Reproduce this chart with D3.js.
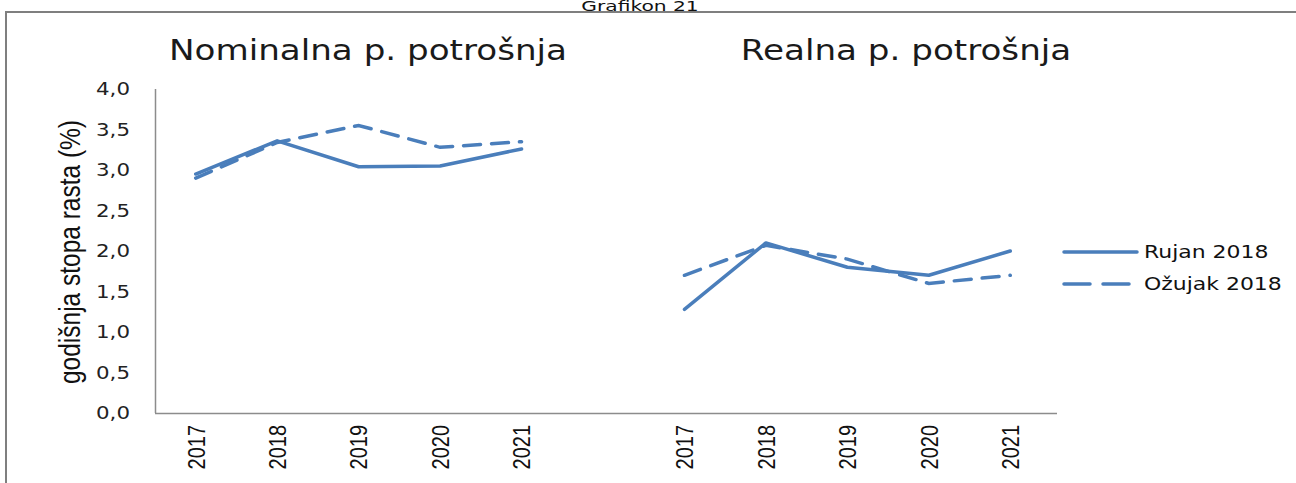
<!DOCTYPE html>
<html>
<head>
<meta charset="utf-8">
<script src="https://cdn.jsdelivr.net/npm/d3@7"></script>
<style>
  body { margin: 0; background: #fff; overflow: hidden; }
  svg { display: block; }
</style>
</head>
<body>
<div id="chart"></div>
<script>
const years = ["2017", "2018", "2019", "2020", "2021"];
const panels = ["Nominalna p. potrošnja", "Realna p. potrošnja"];
const seriesNames = ["Rujan 2018", "Ožujak 2018"];
const yTicks = [0, 0.5, 1, 1.5, 2, 2.5, 3, 3.5, 4];

// values per panel, per series
const nominalRujan  = [2.95, 3.36, 3.04, 3.05, 3.26];
const nominalOzujak = [2.90, 3.34, 3.55, 3.28, 3.35];
const realRujan     = [1.28, 2.10, 1.80, 1.70, 2.00];
const realOzujak    = [1.70, 2.07, 1.90, 1.60, 1.70];

function init() {
  const W = 1296, H = 483;
  const sx = 1.22; // source picture is stretched horizontally
  const blue = "#4a7ebb";
  const verdana = "'DejaVu Sans', Verdana, sans-serif";
  const arial = "'Liberation Sans', Arial, sans-serif";

  const svg = d3.select("#chart").append("svg")
    .attr("width", W)
    .attr("height", H);

  // outer frame
  svg.append("rect")
    .attr("x", 6).attr("y", 12)
    .attr("width", W + 10).attr("height", H + 10)
    .attr("fill", "none")
    .attr("stroke", "#7f7f7f")
    .attr("stroke-width", 2);

  svg.append("text")
    .attr("transform", "translate(640,11) scale(1.5,1)")
    .attr("text-anchor", "middle")
    .attr("font-family", verdana)
    .attr("font-size", 13.5)
    .attr("fill", "#111")
    .text("Grafikon 21");

  // category slots: 5 years, one empty gap, 5 years
  const slots = years.map(y => "N" + y).concat(["gap"], years.map(y => "R" + y));
  const x = d3.scaleBand()
    .domain(slots)
    .range([155, 1051])
    .padding(0);
  const cx = k => x(k) + x.bandwidth() / 2;

  const y = d3.scaleLinear()
    .domain([0, 4])
    .range([413, 89]);

  // axes
  svg.append("line")
    .attr("x1", 155.5).attr("x2", 155.5)
    .attr("y1", y(4)).attr("y2", y(0))
    .attr("stroke", "#8c8c8c").attr("stroke-width", 1.5);
  svg.append("line")
    .attr("x1", 155).attr("x2", 1057)
    .attr("y1", y(0) + 0.5).attr("y2", y(0) + 0.5)
    .attr("stroke", "#8c8c8c").attr("stroke-width", 1.5);

  svg.append("g").selectAll("text")
    .data(yTicks)
    .enter().append("text")
    .attr("transform", d => "translate(130," + y(d) + ") scale(" + sx + ",1)")
    .attr("dy", "0.36em")
    .attr("text-anchor", "end")
    .attr("font-family", verdana)
    .attr("font-size", 17.5)
    .attr("fill", "#222")
    .text(d => d3.format(".1f")(d).replace(".", ","));

  svg.append("text")
    .attr("transform", "translate(70,252) scale(" + sx + ",1) rotate(-90)")
    .attr("dy", "0.35em")
    .attr("text-anchor", "middle")
    .attr("font-family", arial)
    .attr("font-size", 24.5)
    .attr("fill", "#111")
    .text("godišnja stopa rasta (%)");

  // year labels
  svg.append("g").selectAll("text")
    .data(slots.filter(k => k !== "gap"))
    .enter().append("text")
    .attr("transform", d => "translate(" + cx(d) + ",425) scale(" + sx + ",1) rotate(-90)")
    .attr("dy", "0.36em")
    .attr("text-anchor", "end")
    .attr("font-family", arial)
    .attr("font-size", 20)
    .attr("fill", "#111")
    .text(d => d.slice(1));

  const groups = [
    { prefix: "N", title: panels[0], titleX: 368, rujan: nominalRujan, ozujak: nominalOzujak },
    { prefix: "R", title: panels[1], titleX: 906, rujan: realRujan, ozujak: realOzujak }
  ];

  const line = d3.line()
    .x(d => cx(d.key))
    .y(d => y(d.value));

  groups.forEach(g => {
    // panel title
    svg.append("text")
      .attr("transform", "translate(" + g.titleX + ",60) scale(" + sx + ",1)")
      .attr("text-anchor", "middle")
      .attr("font-family", verdana)
      .attr("font-size", 28)
      .attr("fill", "#1a1a1a")
      .text(g.title);

    const toPts = vals => years.map((yr, i) => ({ key: g.prefix + yr, value: vals[i] }));

    svg.append("path")
      .datum(toPts(g.ozujak))
      .attr("d", line)
      .attr("fill", "none")
      .attr("stroke", blue)
      .attr("stroke-width", 3.5)
      .attr("stroke-dasharray", "17,11")
      .attr("stroke-linecap", "round");

    svg.append("path")
      .datum(toPts(g.rujan))
      .attr("d", line)
      .attr("fill", "none")
      .attr("stroke", blue)
      .attr("stroke-width", 3.5)
      .attr("stroke-linejoin", "round")
      .attr("stroke-linecap", "round");
  });

  // legend
  const legend = svg.append("g");
  seriesNames.forEach((name, i) => {
    const ly = 252 + i * 32;
    legend.append("line")
      .attr("x1", 1064).attr("x2", 1137)
      .attr("y1", ly).attr("y2", ly)
      .attr("stroke", blue)
      .attr("stroke-width", 3.5)
      .attr("stroke-linecap", "round")
      .attr("stroke-dasharray", i === 1 ? "26,13" : null);
    legend.append("text")
      .attr("transform", "translate(1144," + ly + ") scale(" + sx + ",1)")
      .attr("dy", "0.36em")
      .attr("font-family", verdana)
      .attr("font-size", 18)
      .attr("fill", "#111")
      .text(name);
  });
}

window.onload = init;
</script>
</body>
</html>
